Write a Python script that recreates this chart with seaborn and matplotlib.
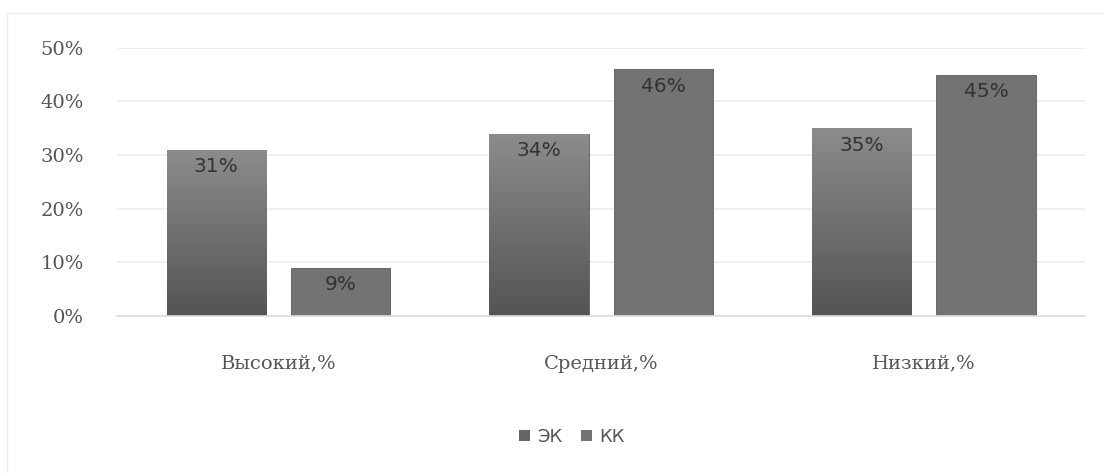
import numpy as np
import pandas as pd
import matplotlib
matplotlib.use('Agg')
import matplotlib.pyplot as plt
import seaborn as sns
from matplotlib.patches import Rectangle

# Data
categories = ['Высокий,%', 'Средний,%', 'Низкий,%']
groups = ['ЭК', 'КК']
ek_values = [31, 34, 35]
kk_values = [9, 46, 45]
y_ticks = [0, 10, 20, 30, 40, 50]

df = pd.DataFrame({
    'cat': categories * 2,
    'group': [groups[0]] * 3 + [groups[1]] * 3,
    'value': ek_values + kk_values,
})

sns.set_theme(style='white')
plt.rcParams['font.family'] = ['DejaVu Serif', 'DejaVu Sans']

fig = plt.figure(figsize=(11.04, 4.73), dpi=100)
ax = fig.add_axes([0.106, 0.332, 0.877, 0.567])

palette = {'ЭК': '#6e6e6e', 'КК': '#737373'}
sns.barplot(data=df, x='cat', y='value', hue='group', order=categories,
            hue_order=groups, palette=palette, width=0.77, gap=0.2,
            saturation=1, ax=ax, legend=False, edgecolor='#5a5a5a', linewidth=0.6)

# gradient fill for ЭК bars (lighter at top, darker at bottom)
n = len(categories)
grad = np.linspace(0, 1, 256).reshape(-1, 1)
cmap = matplotlib.colors.LinearSegmentedColormap.from_list('g', ['#8c8c8c', '#545454'])
for p in ax.patches[:n]:
    x0, w, h = p.get_x(), p.get_width(), p.get_height()
    im = ax.imshow(grad, extent=[x0, x0 + w, 0, h], aspect='auto', cmap=cmap,
                   zorder=p.get_zorder() + 0.1, origin='upper')
    im.set_clip_path(p)

# value labels inside bars, near the top
for p in ax.patches[:2 * n]:
    h = p.get_height()
    ax.text(p.get_x() + p.get_width() / 2, h - 1.4, f'{int(h)}%', ha='center', va='top',
            fontsize=14.5, color='#333333', family=['DejaVu Sans'], zorder=5)

ax.set_xlim(-0.5, 2.5)
ax.set_ylim(0, 50)
ax.set_yticks(y_ticks)
ax.set_yticklabels([f'{t}%' for t in y_ticks])
ax.yaxis.grid(True, color='#ececec', linewidth=1.2)
ax.set_axisbelow(True)
for s in ['top', 'right', 'left']:
    ax.spines[s].set_visible(False)
ax.spines['bottom'].set_color('#dcdcdc')
ax.spines['bottom'].set_linewidth(1.2)
ax.tick_params(axis='y', length=0, pad=24, labelsize=14, labelcolor='#555555')
ax.tick_params(axis='x', length=0, pad=28, labelsize=14, labelcolor='#555555')
ax.set_xlabel('')
ax.set_ylabel('')

# legend
handles = [Rectangle((0, 0), 1, 1, facecolor='#666666', edgecolor='none'),
           Rectangle((0, 0), 1, 1, facecolor='#737373', edgecolor='none')]
fig.legend(handles, groups, loc='center', bbox_to_anchor=(0.518, 0.076), ncol=2,
           frameon=False, handlelength=0.6, handleheight=0.6, handletextpad=0.4,
           columnspacing=1.0, prop={'family': 'DejaVu Sans', 'size': 13},
           labelcolor='#555555')

# faint outer chart border
fig.add_artist(Rectangle((7 / 1104, -0.1), 1.2, (473 - 13) / 473 + 0.1,
                         transform=fig.transFigure, fill=False,
                         edgecolor='#ececec', linewidth=1.0))

fig.savefig('out.png', dpi=100)
